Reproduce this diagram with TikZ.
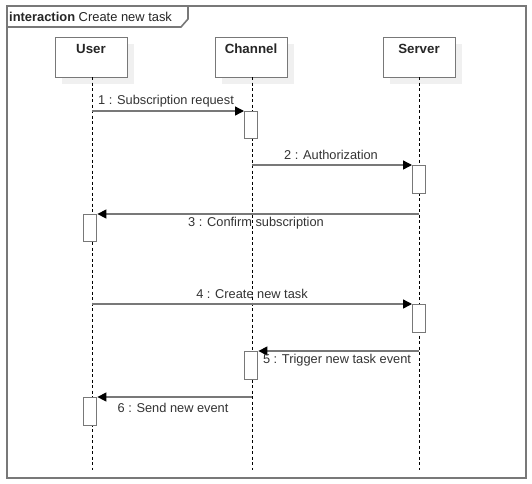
\documentclass[tikz,border=0pt]{standalone}
\usepackage{fontspec}
\setmainfont{Liberation Sans}
\usetikzlibrary{arrows.meta}
\definecolor{edge}{HTML}{787878}
\definecolor{shadowgray}{HTML}{F0F0F0}
\tikzset{
  x=1pt, y=-1pt,
  head/.style={draw=edge, line width=1.4pt, fill=white, minimum width=72pt, minimum height=40pt, inner sep=0pt, anchor=north west},
  headtext/.style={font=\fontsize{13.3}{15}\selectfont\bfseries, text=black!85},
  act/.style={draw=edge, line width=1.4pt, fill=white, anchor=north west, minimum width=13pt, inner sep=0pt},
  life/.style={draw=black, line width=0.8pt, dash pattern=on 3pt off 2.5pt},
  msg/.style={draw=edge, line width=1.4pt, -{Triangle[length=9pt,width=9pt,color=black]}},
  lbl/.style={font=\fontsize{12.8}{14}\selectfont, text=black!80, inner sep=0pt},
}
\begin{document}
\begin{tikzpicture}
\useasboundingbox (0,0) rectangle (532,483);
\fill[white] (0,0) rectangle (532,483);
% frame
\draw[edge, line width=1.6pt] (7,6) rectangle (526,478);
\draw[edge, line width=1.6pt] (7,27) -- (181,27) -- (188,19) -- (188,6);
\node[anchor=west, inner sep=0pt, font=\fontsize{12.9}{15}\selectfont, text=black!85] (title) at (9,16.5) {\textbf{interaction} Create new task};
% shadows
\foreach \x in {55,215,383} \fill[shadowgray] (\x+7,44) rectangle (\x+79,84);
% heads
\node[head] (user) at (55,37) {};
\node[head] (chan) at (215,37) {};
\node[head] (serv) at (383,37) {};
\node[headtext] at (91,49) {User};
\node[headtext] at (251,49) {Channel};
\node[headtext] at (419,49) {Server};
% lifelines
\coordinate (ue) at (92,470);
\coordinate (ce) at (252,470);
\coordinate (se) at (419,470);
\draw[life] (92,77) -- (ue);
\draw[life] (252,77) -- (ce);
\draw[life] (419,77) -- (se);
% activations
\node[act, minimum height=27pt] (a1) at (244,111) {};
\node[act, minimum height=28pt] (a2) at (412,165) {};
\node[act, minimum height=27pt] (a3) at (83,214) {};
\node[act, minimum height=28pt] (a4) at (412,304) {};
\node[act, minimum height=28pt] (a5) at (244,351) {};
\node[act, minimum height=28pt] (a6) at (83,397) {};
% messages
\coordinate (m1s) at (92,111);
\coordinate (m2s) at (252,165);
\coordinate (m3s) at (419,214);
\coordinate (m4s) at (92,304);
\coordinate (m5s) at (419,351);
\coordinate (m6s) at (252,397);
\draw[msg] (m1s) -- (a1.north west);
\draw[msg] (m2s) -- (a2.north west);
\draw[msg] (m3s) -- (a3.north east);
\draw[msg] (m4s) -- (a4.north west);
\draw[msg] (m5s) -- (a5.north east);
\draw[msg] (m6s) -- (a6.north east);
% labels
\node[lbl] (l1) at (166,101) {1 : Subscription request};
\node[lbl] (l2) at (331,155) {2 : Authorization};
\node[lbl] (l3) at (256,223.5) {3 : Confirm subscription};
\node[lbl] (l4) at (252,293.5) {4 : Create new task};
\node[lbl] (l5) at (337,360.5) {5 : Trigger new task event};
\node[lbl] (l6) at (173,407.5) {6 : Send new event};
\end{tikzpicture}
\end{document}
